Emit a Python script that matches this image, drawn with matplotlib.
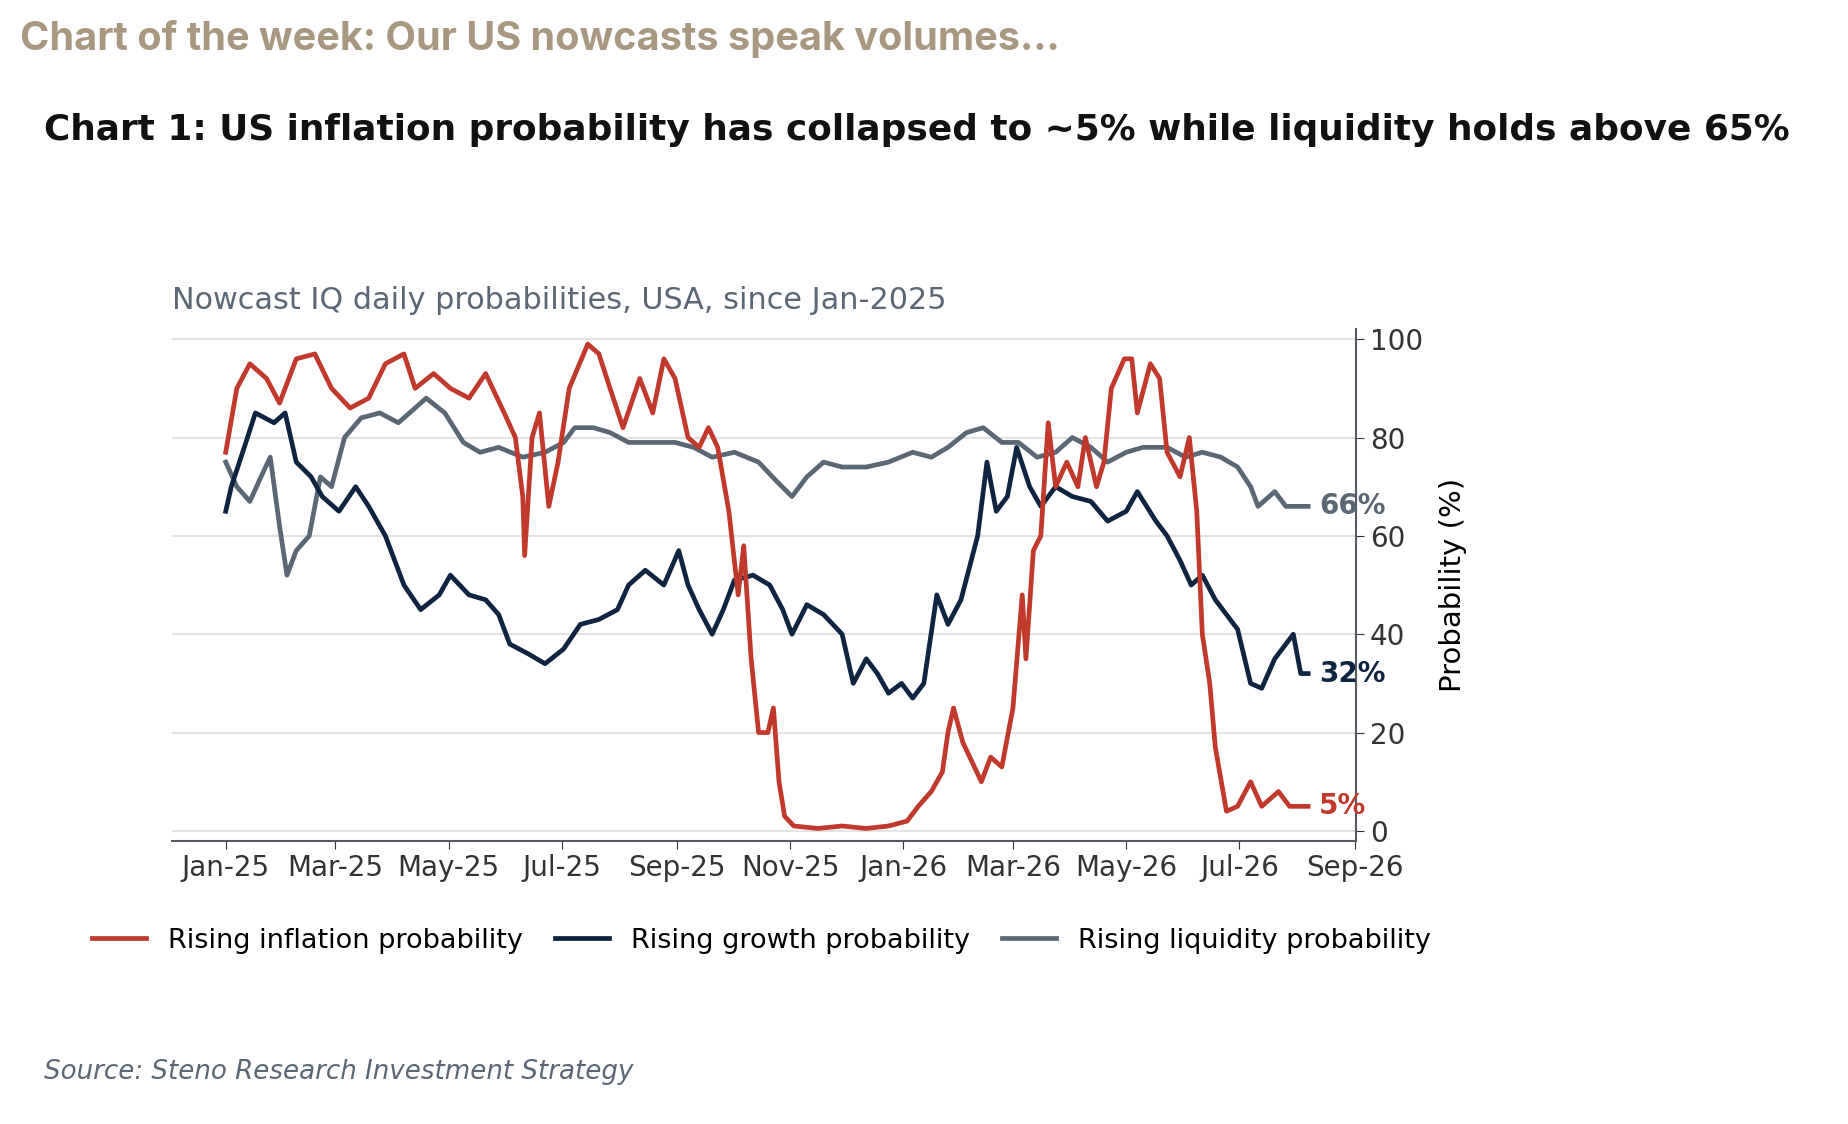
import matplotlib
matplotlib.use("Agg")
import matplotlib.pyplot as plt
import numpy as np
import pandas as pd

start = pd.Timestamp("2025-01-01")

infl_days = [0,6,13,22,29,38,48,57,67,77,86,96,102,112,121,131,140,150,156,160,161,165,169,174,179,185,195,201,207,214,223,230,236,242,249,255,260,265,271,276,279,283,287,292,295,298,301,306,319,332,345,357,367,373,380,386,389,392,397,402,407,412,418,424,429,431,435,439,443,447,453,459,463,469,473,477,484,488,491,498,503,507,514,519,523,526,530,533,539,545,552,558,567,573,578,583]
infl_vals = [77,90,95,92,87,96,97,90,86,88,95,97,90,93,90,88,93,85,80,68,56,80,85,66,75,90,99,97,90,82,92,85,96,92,80,78,82,78,65,48,58,35,20,20,25,10,3,1,0.5,1,0.5,1,2,5,8,12,20,25,18,14,10,15,13,25,48,35,57,60,83,70,75,70,80,70,75,90,96,96,85,95,92,77,72,80,65,40,30,17,4,5,10,5,8,5,5,5]

growth_days = [0,3,10,16,26,32,38,46,52,61,70,77,86,96,105,115,121,131,140,147,153,163,172,182,191,201,211,217,226,236,244,249,255,262,268,274,284,293,300,305,313,322,332,338,345,351,357,364,370,376,383,389,396,405,410,415,421,426,433,439,447,456,466,475,485,491,501,507,514,520,526,533,539,545,552,558,565,571,575,579,583]
growth_vals = [65,70,78,85,83,85,75,72,68,65,70,66,60,50,45,48,52,48,47,44,38,36,34,37,42,43,45,50,53,50,57,50,45,40,45,51,52,50,45,40,46,44,40,30,35,32,28,30,27,30,48,42,47,60,75,65,68,78,70,66,70,68,67,63,65,69,63,60,55,50,52,47,44,41,30,29,35,38,40,32,32]

liq_days = [0,6,13,19,24,29,33,38,45,51,57,64,73,83,93,102,108,118,128,137,147,160,172,182,188,198,207,217,230,242,252,262,274,287,297,305,313,322,332,345,357,370,380,389,399,408,418,427,437,447,456,466,475,485,494,507,517,526,536,545,552,556,565,571,583]
liq_vals = [75,70,67,72,76,62,52,57,60,72,70,80,84,85,83,86,88,85,79,77,78,76,77,79,82,82,81,79,79,79,78,76,77,75,71,68,72,75,74,74,75,77,76,78,81,82,79,79,76,77,80,78,75,77,78,78,76,77,76,74,70,66,69,66,66]

tick_labels = ["Jan-25","Mar-25","May-25","Jul-25","Sep-25","Nov-25","Jan-26","Mar-26","May-26","Jul-26","Sep-26"]
tick_dates = pd.to_datetime(["2025-01-01","2025-03-01","2025-05-01","2025-07-01","2025-09-01","2025-11-01",
                             "2026-01-01","2026-03-01","2026-05-01","2026-07-01","2026-09-01"])

RED, NAVY, GREY = "#c0392b", "#0f2440", "#5b6775"

fig = plt.figure(figsize=(18.48, 11.24), dpi=100)
ax = fig.add_axes([0.093, 0.252, 0.641, 0.455])

def dates(d):
    return start + pd.to_timedelta(d, unit="D")

ax.plot(dates(liq_days), liq_vals, color=GREY, lw=3.4, label="Rising liquidity probability", zorder=2)
ax.plot(dates(growth_days), growth_vals, color=NAVY, lw=3.4, label="Rising growth probability", zorder=3)
ax.plot(dates(infl_days), infl_vals, color=RED, lw=3.4, label="Rising inflation probability", zorder=4)

ax.set_xlim(pd.Timestamp("2024-12-03"), pd.Timestamp("2026-09-02"))
ax.set_ylim(-2, 102)
ax.set_xticks(tick_dates)
ax.set_xticklabels(tick_labels)
ax.yaxis.tick_right()
ax.yaxis.set_label_position("right")
ax.set_yticks([0, 20, 40, 60, 80, 100])
ax.set_ylabel("Probability (%)", fontsize=21, labelpad=12)
ax.tick_params(labelsize=20, colors="#333333", length=6)
ax.grid(axis="y", color="#e3e3e3", lw=1.5)
ax.set_axisbelow(True)
for s in ["top", "left"]:
    ax.spines[s].set_visible(False)
for s in ["right", "bottom"]:
    ax.spines[s].set_color("#555b63")
    ax.spines[s].set_linewidth(1.5)

endx = pd.Timestamp("2026-08-13")
ax.text(endx, liq_vals[-1], f"{liq_vals[-1]}%", color=GREY, fontsize=20, fontweight="bold", va="center")
ax.text(endx, growth_vals[-1], f"{growth_vals[-1]}%", color=NAVY, fontsize=20, fontweight="bold", va="center")
ax.text(endx, infl_vals[-1], f"{infl_vals[-1]}%", color=RED, fontsize=20, fontweight="bold", va="center")

h, l = ax.get_legend_handles_labels()
order = [2, 1, 0]
fig.legend([h[i] for i in order], [l[i] for i in order], loc="center", bbox_to_anchor=(0.412, 0.163),
           ncol=3, frameon=False, fontsize=19.5, handlelength=2.0, columnspacing=1.2)

fig.text(0.011, 0.965, "Chart of the week: Our US nowcasts speak volumes…", fontsize=28.5, fontweight="bold",
         color="#a89880", family=["Inter", "DejaVu Sans"], va="center")
fig.text(0.024, 0.884, "Chart 1: US inflation probability has collapsed to ~5% while liquidity holds above 65%",
         fontsize=25.8, fontweight="bold", color="#111111", va="center")
fig.text(0.093, 0.733, "Nowcast IQ daily probabilities, USA, since Jan-2025", fontsize=21.8, color=GREY, va="center")
fig.text(0.024, 0.046, "Source: Steno Research Investment Strategy", fontsize=18.8, style="italic", color=GREY, va="center")

fig.savefig("out.png", dpi=100)
